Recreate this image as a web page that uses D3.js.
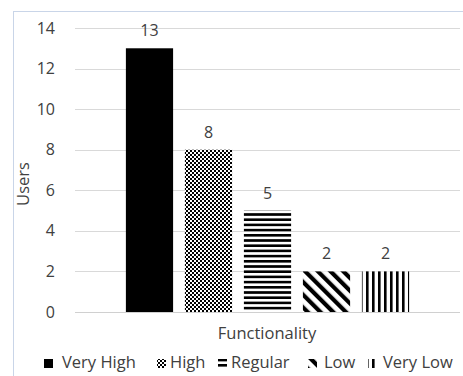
<!DOCTYPE html>
<html>
<head>
<meta charset="utf-8">
<script src="https://d3js.org/d3.v7.min.js"></script>
<style>
  body { margin: 0; background: #fff; }
  text { font-family: "Open Sans", "Noto Sans", sans-serif; fill: #404040; }
</style>
</head>
<body>
<svg id="chart" width="463" height="376"></svg>
<script>
// data
const levels = ["Very High", "High", "Regular", "Low", "Very Low"];
const users = [13, 8, 5, 2, 2];
const patternIds = ["solid", "checker", "hlines", "diag", "vlines"];
const yTicks = [0, 2, 4, 6, 8, 10, 12, 14];

const svg = d3.select("#chart");

// chart frame (only top/left visible in the crop)
svg.append("rect")
    .attr("x", 13.5).attr("y", 11.5)
    .attr("width", 480).attr("height", 400)
    .attr("fill", "none")
    .attr("stroke", "#c9d5e8");

// patterns
const defs = svg.append("defs");

let p = defs.append("pattern").attr("id", "checker")
    .attr("patternUnits", "userSpaceOnUse").attr("width", 4).attr("height", 4);
p.append("rect").attr("width", 4).attr("height", 4).attr("fill", "#fff");
p.append("rect").attr("width", 2).attr("height", 2).attr("fill", "#000");
p.append("rect").attr("x", 2).attr("y", 2).attr("width", 2).attr("height", 2).attr("fill", "#000");

p = defs.append("pattern").attr("id", "hlines")
    .attr("patternUnits", "userSpaceOnUse").attr("width", 5).attr("height", 5.2);
p.append("rect").attr("width", 5).attr("height", 5.2).attr("fill", "#fff");
p.append("rect").attr("width", 5).attr("height", 2.6).attr("fill", "#000");

p = defs.append("pattern").attr("id", "diag")
    .attr("patternUnits", "userSpaceOnUse").attr("width", 9).attr("height", 9)
    .attr("patternTransform", "rotate(-45)");
p.append("rect").attr("width", 9).attr("height", 9).attr("fill", "#fff");
p.append("rect").attr("width", 4.2).attr("height", 9).attr("fill", "#000");

p = defs.append("pattern").attr("id", "vlines")
    .attr("patternUnits", "userSpaceOnUse").attr("width", 6).attr("height", 5);
p.append("rect").attr("width", 6).attr("height", 5).attr("fill", "#fff");
p.append("rect").attr("width", 2.6).attr("height", 5).attr("fill", "#000");

function fillFor(i) {
    return patternIds[i] === "solid" ? "#000" : "url(#" + patternIds[i] + ")";
}

// scales
const plotLeft = 75, plotRight = 460;
const y = d3.scaleLinear().domain([0, 14]).range([312, 28]);
const x0 = d3.scaleBand().domain(["Functionality"])
    .range([plotLeft, plotRight]).paddingOuter(0.1525).paddingInner(0);
const x1 = d3.scaleBand().domain(levels)
    .range([0, x0.bandwidth()]).paddingInner(0.2).paddingOuter(0.1);

// gridlines
svg.append("g").selectAll("line")
    .data(yTicks.filter(d => d > 0))
    .join("line")
    .attr("x1", plotLeft).attr("x2", plotRight)
    .attr("y1", d => Math.round(y(d)) + 0.5).attr("y2", d => Math.round(y(d)) + 0.5)
    .attr("stroke", "#d9d9d9");

// y axis labels
const yAxis = svg.append("g")
    .attr("transform", "translate(55,0)")
    .call(d3.axisLeft(y).tickValues(yTicks).tickSize(0).tickPadding(0));
yAxis.select(".domain").remove();
yAxis.selectAll("text")
    .attr("font-size", 16)
    .attr("font-family", "Open Sans, Noto Sans, sans-serif")
    .attr("fill", "#404040");

// bars
const g = svg.append("g").attr("transform", "translate(" + x0("Functionality") + ",0)");
g.selectAll("rect")
    .data(users)
    .join("rect")
    .attr("x", (d, i) => x1(levels[i]))
    .attr("y", d => y(d))
    .attr("width", x1.bandwidth())
    .attr("height", d => y(0) - y(d))
    .attr("fill", (d, i) => fillFor(i));

g.selectAll("text.lbl")
    .data(users)
    .join("text")
    .attr("class", "lbl")
    .attr("x", (d, i) => x1(levels[i]) + x1.bandwidth() / 2)
    .attr("y", d => y(d) - 12)
    .attr("text-anchor", "middle")
    .attr("font-size", 16)
    .text(d => d);

// baseline
svg.append("line")
    .attr("x1", plotLeft).attr("x2", plotRight)
    .attr("y1", Math.round(y(0)) + 0.5).attr("y2", Math.round(y(0)) + 0.5)
    .attr("stroke", "#d0d0d0");

// axis titles
svg.append("text")
    .attr("x", 267).attr("y", 339)
    .attr("text-anchor", "middle")
    .attr("font-size", 16.5)
    .text("Functionality");

svg.append("text")
    .attr("transform", "translate(29,184) rotate(-90)")
    .attr("text-anchor", "middle")
    .attr("font-size", 16.5)
    .text("Users");

// legend
const legendX = [44, 157, 218, 308, 368];
const legendTextX = [62, 170, 231, 324, 383];
const legend = svg.append("g");
levels.forEach((name, i) => {
    legend.append("rect")
        .attr("x", legendX[i]).attr("y", 359)
        .attr("width", 9).attr("height", 9)
        .attr("fill", fillFor(i));
    legend.append("text")
        .attr("x", legendTextX[i]).attr("y", 368)
        .attr("font-size", 16.5)
        .text(name);
});
</script>
</body>
</html>
